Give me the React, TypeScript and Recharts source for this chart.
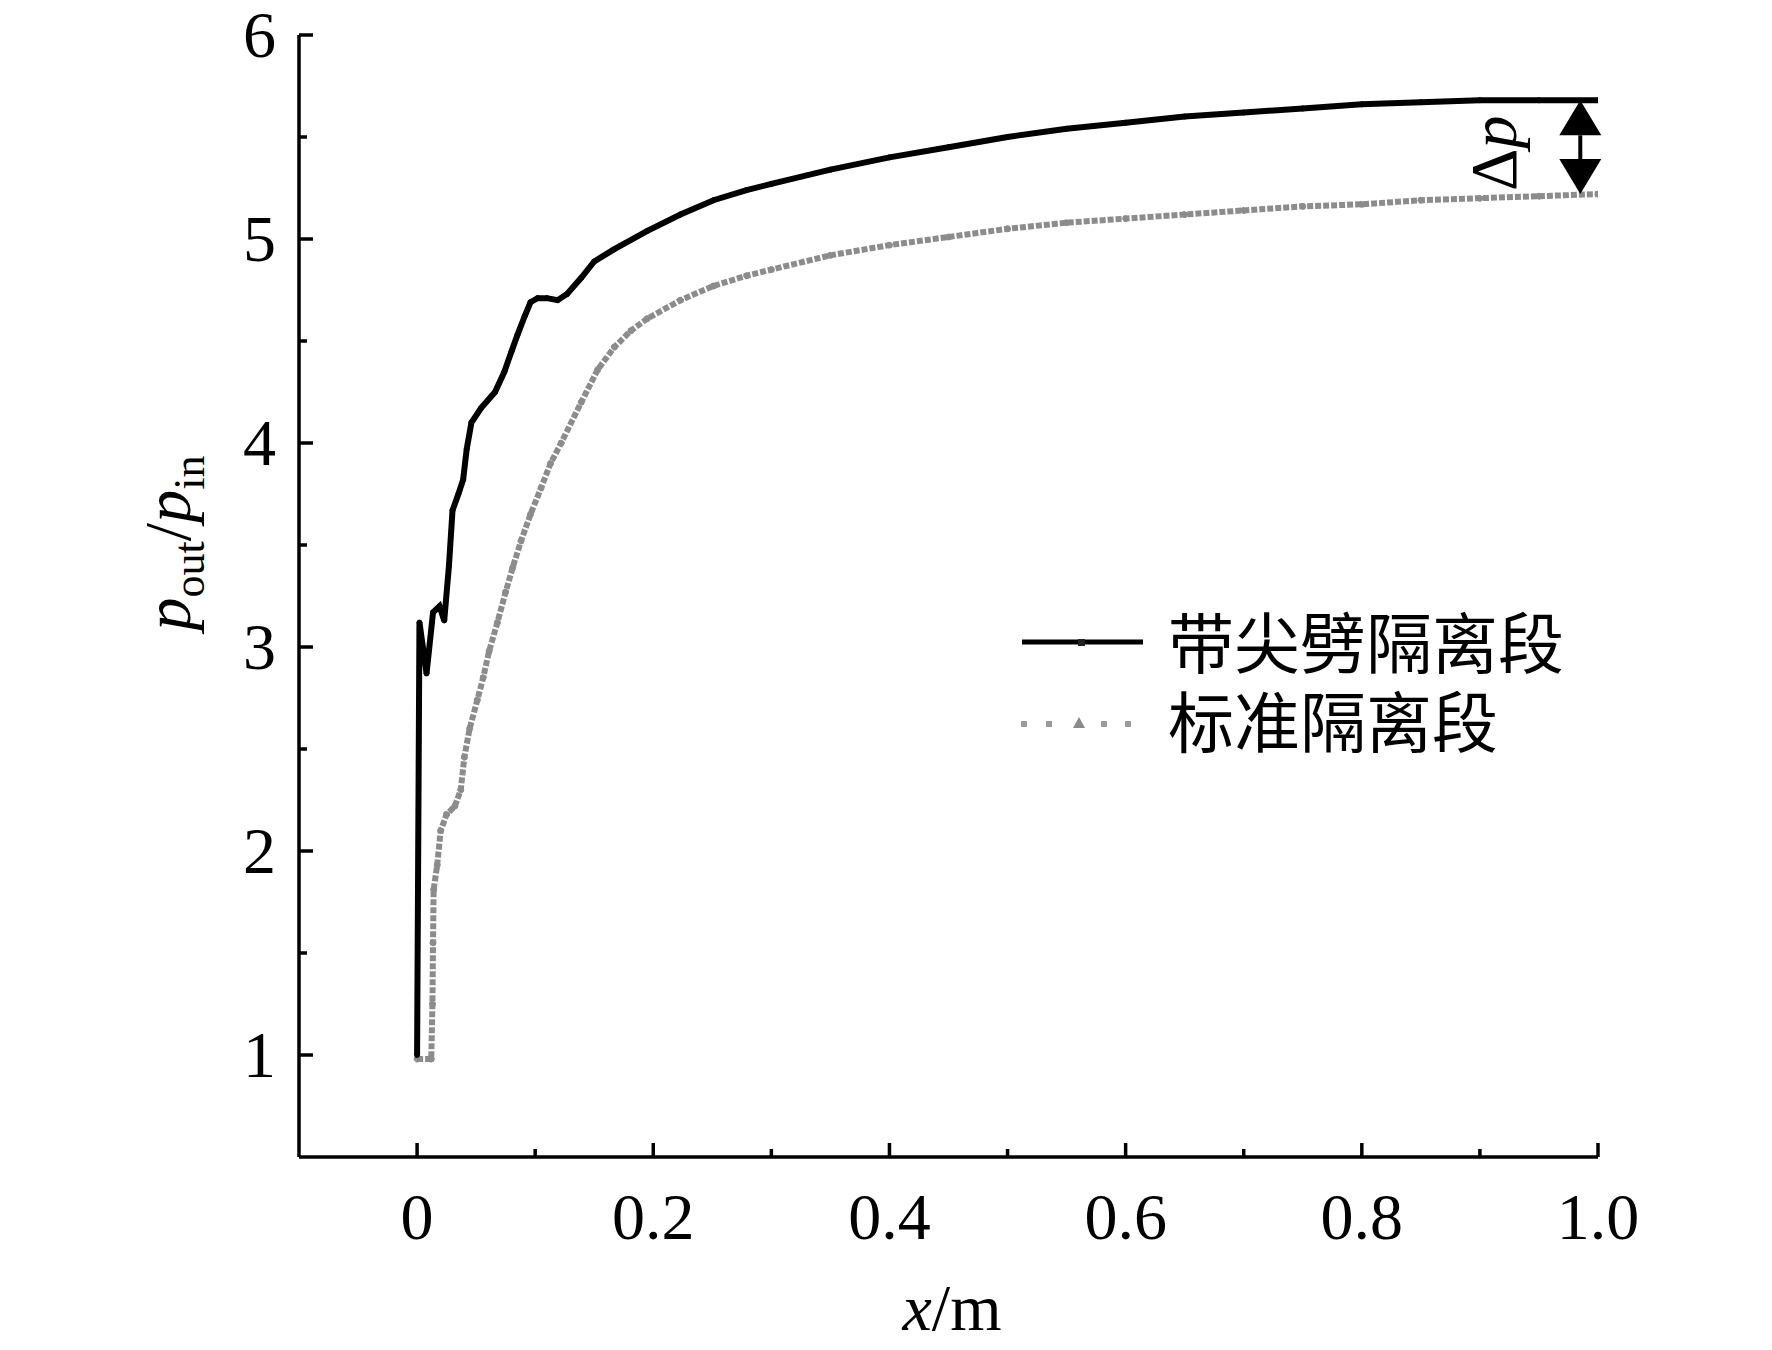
import React from "react";
import { LineChart, Line, XAxis, YAxis, Legend, ReferenceLine, Label } from "recharts";

// 带尖劈隔离段 (x in m, p_out/p_in)
const wedgeX = [
  0, 0.002, 0.008, 0.0135, 0.019, 0.023, 0.027, 0.03, 0.035, 0.039, 0.042, 0.046,
  0.054, 0.066, 0.074, 0.08, 0.085, 0.091, 0.096, 0.102, 0.11, 0.119, 0.127, 0.139,
  0.15, 0.167, 0.195, 0.223, 0.251, 0.279, 0.3, 0.35, 0.4, 0.45, 0.5, 0.55, 0.6,
  0.65, 0.7, 0.75, 0.8, 0.85, 0.9, 0.95, 1.0,
];
const wedgeY = [
  1.0, 3.12, 2.87, 3.17, 3.2, 3.13, 3.4, 3.67, 3.75, 3.82, 3.97, 4.1,
  4.17, 4.25, 4.35, 4.45, 4.53, 4.62, 4.69, 4.71, 4.71, 4.7, 4.73, 4.81,
  4.89, 4.95, 5.04, 5.12, 5.19, 5.24, 5.27, 5.34, 5.4, 5.45, 5.5, 5.54, 5.57,
  5.6, 5.62, 5.64, 5.66, 5.67, 5.68, 5.68, 5.68,
];

// 标准隔离段
const standardX = [
  0, 0.012, 0.013, 0.0135, 0.014, 0.017, 0.02, 0.025, 0.032, 0.037, 0.04, 0.0445,
  0.051, 0.056, 0.061, 0.068, 0.075, 0.081, 0.088, 0.096, 0.105, 0.113, 0.122, 0.139,
  0.153, 0.167, 0.181, 0.195, 0.223, 0.251, 0.279, 0.3, 0.35, 0.4, 0.45, 0.5, 0.55,
  0.6, 0.65, 0.7, 0.75, 0.8, 0.85, 0.9, 0.95, 1.0,
];
const standardY = [
  0.98, 0.98, 1.25, 1.55, 1.81, 1.93, 2.1, 2.18, 2.22, 2.3, 2.46, 2.6,
  2.74, 2.85, 2.98, 3.12, 3.27, 3.39, 3.52, 3.65, 3.78, 3.9, 4.0, 4.2,
  4.36, 4.47, 4.55, 4.61, 4.7, 4.77, 4.82, 4.85, 4.92, 4.97, 5.01, 5.05, 5.08,
  5.1, 5.12, 5.14, 5.16, 5.17, 5.19, 5.2, 5.21, 5.22,
];

const seriesNames = ["带尖劈隔离段", "标准隔离段"];

const xTicks = [0, 0.1, 0.2, 0.3, 0.4, 0.5, 0.6, 0.7, 0.8, 0.9, 1.0];
const xTickLabels = ["0", "", "0.2", "", "0.4", "", "0.6", "", "0.8", "", "1.0"];
const yTicks = [1, 1.5, 2, 2.5, 3, 3.5, 4, 4.5, 5, 5.5, 6];
const yTickLabels = ["1", "", "2", "", "3", "", "4", "", "5", "", "6"];

// Δp marker between the two outlet values
const deltaX = 0.985;
const deltaTop = 5.68;
const deltaBottom = 5.22;

const wedgeData = wedgeX.map((x, i) => ({ x, y: wedgeY[i] }));
const standardData = standardX.map((x, i) => ({ x, y: standardY[i] }));

const serif = "'Liberation Serif', 'Times New Roman', serif";
const cjk = "'Noto Sans CJK SC', sans-serif";
const fontSize = 66;

const XTick = ({ x, y, payload }: any) => {
  const label = xTickLabels[xTicks.indexOf(payload.value)] || "";
  const major = label !== "";
  return (
    <g>
      <line x1={x} x2={x} y1={y} y2={y - (major ? 14 : 8)} stroke="#000" strokeWidth={3.5} />
      {major && (
        <text x={x} y={y + 82} textAnchor="middle" fontFamily={serif} fontSize={fontSize} fill="#000">
          {label}
        </text>
      )}
    </g>
  );
};

const YTick = ({ x, y, payload }: any) => {
  const label = yTickLabels[yTicks.indexOf(payload.value)] || "";
  const major = label !== "";
  return (
    <g>
      <line x1={x} x2={x + (major ? 14 : 8)} y1={y} y2={y} stroke="#000" strokeWidth={3.5} />
      {major && (
        <text x={x - 23} y={y + 22} textAnchor="end" fontFamily={serif} fontSize={fontSize} fill="#000">
          {label}
        </text>
      )}
    </g>
  );
};

const DeltaArrow = ({ x1, y1, y2 }: any) => {
  const top = Math.min(y1, y2);
  const bot = Math.max(y1, y2);
  const hw = 21;
  const hh = 35;
  const mid = (top + bot) / 2 + 6;
  const tx = x1 - 64;
  return (
    <g>
      <line x1={x1} x2={x1} y1={top + hh} y2={bot - hh} stroke="#000" strokeWidth={4} />
      <polygon points={`${x1},${top} ${x1 - hw},${top + hh} ${x1 + hw},${top + hh}`} fill="#000" />
      <polygon points={`${x1},${bot} ${x1 - hw},${bot - hh} ${x1 + hw},${bot - hh}`} fill="#000" />
      <text
        x={tx}
        y={mid}
        transform={`rotate(-90, ${tx}, ${mid})`}
        textAnchor="middle"
        fontFamily={serif}
        fontSize={fontSize}
        fill="#000"
      >
        Δ<tspan fontStyle="italic">p</tspan>
      </text>
    </g>
  );
};

const renderLegend = () => (
  <svg width={1772} height={1350} style={{ position: "absolute", left: 0, top: 0, overflow: "visible" }}>
    <line x1={1022} x2={1143} y1={642} y2={642} stroke="#000" strokeWidth={5} />
    <rect x={1078} y={639} width={7} height={7} fill="#222" />
    <text x={1168} y={639} dominantBaseline="central" fontFamily={cjk} fontSize={fontSize} fill="#000">
      {seriesNames[0]}
    </text>
    {[1024, 1049, 1104, 1128].map((cx) => (
      <rect key={cx} x={cx - 3} y={721} width={6} height={6} fill="#9a9a9a" />
    ))}
    <polygon points="1079,717 1073,728 1085,728" fill="#8a8a8a" />
    <text x={1168} y={718} dominantBaseline="central" fontFamily={cjk} fontSize={fontSize} fill="#000">
      {seriesNames[1]}
    </text>
  </svg>
);

export default function App() {
  return (
    <div style={{ position: "absolute", left: 0, top: 0, width: 1772, height: 1350, background: "#fff" }}>
      <LineChart width={1772} height={1350} margin={{ top: 35, right: 174, bottom: 93, left: 199 }}>
        <XAxis
          type="number"
          dataKey="x"
          domain={[-0.1, 1.0]}
          ticks={xTicks}
          interval={0}
          allowDataOverflow
          height={100}
          tickSize={0}
          tickMargin={0}
          tickLine={false}
          tick={<XTick />}
          axisLine={{ stroke: "#000", strokeWidth: 3.5 }}
        >
          <Label
            content={() => (
              <text x={952} y={1330} textAnchor="middle" fontFamily={serif} fontSize={fontSize} fill="#000">
                <tspan fontStyle="italic">x</tspan>/m
              </text>
            )}
          />
        </XAxis>
        <YAxis
          type="number"
          dataKey="y"
          domain={[0.5, 6]}
          ticks={yTicks}
          interval={0}
          allowDataOverflow
          width={100}
          tickSize={0}
          tickMargin={0}
          tickLine={false}
          tick={<YTick />}
          axisLine={{ stroke: "#000", strokeWidth: 3.5 }}
        >
          <Label
            content={() => (
              <text
                x={190}
                y={543}
                transform="rotate(-90, 190, 543)"
                textAnchor="middle"
                fontFamily={serif}
                fontSize={fontSize}
                fill="#000"
              >
                <tspan fontStyle="italic">p</tspan>
                <tspan fontSize={44} dy={14}>out</tspan>
                <tspan dy={-14}>/</tspan>
                <tspan fontStyle="italic">p</tspan>
                <tspan fontSize={44} dy={14}>in</tspan>
              </text>
            )}
          />
        </YAxis>
        <Legend layout="vertical" align="center" verticalAlign="middle" content={renderLegend}
          wrapperStyle={{ left: 0, top: 0, width: 0, height: 0 }} />
        <Line
          data={standardData}
          dataKey="y"
          name={seriesNames[1]}
          type="linear"
          stroke="#8c8c8c"
          strokeWidth={6}
          strokeDasharray="6 2"
          dot={{ r: 3, fill: "#8c8c8c", stroke: "#8c8c8c", strokeWidth: 1 }}
          isAnimationActive={false}
        />
        <Line
          data={wedgeData}
          dataKey="y"
          name={seriesNames[0]}
          type="linear"
          stroke="#000"
          strokeWidth={6}
          dot={{ r: 2.5, fill: "#000", stroke: "#000", strokeWidth: 1 }}
          isAnimationActive={false}
        />
        <ReferenceLine
          segment={[{ x: deltaX, y: deltaTop }, { x: deltaX, y: deltaBottom }]}
          shape={<DeltaArrow />}
        />
      </LineChart>
    </div>
  );
}
